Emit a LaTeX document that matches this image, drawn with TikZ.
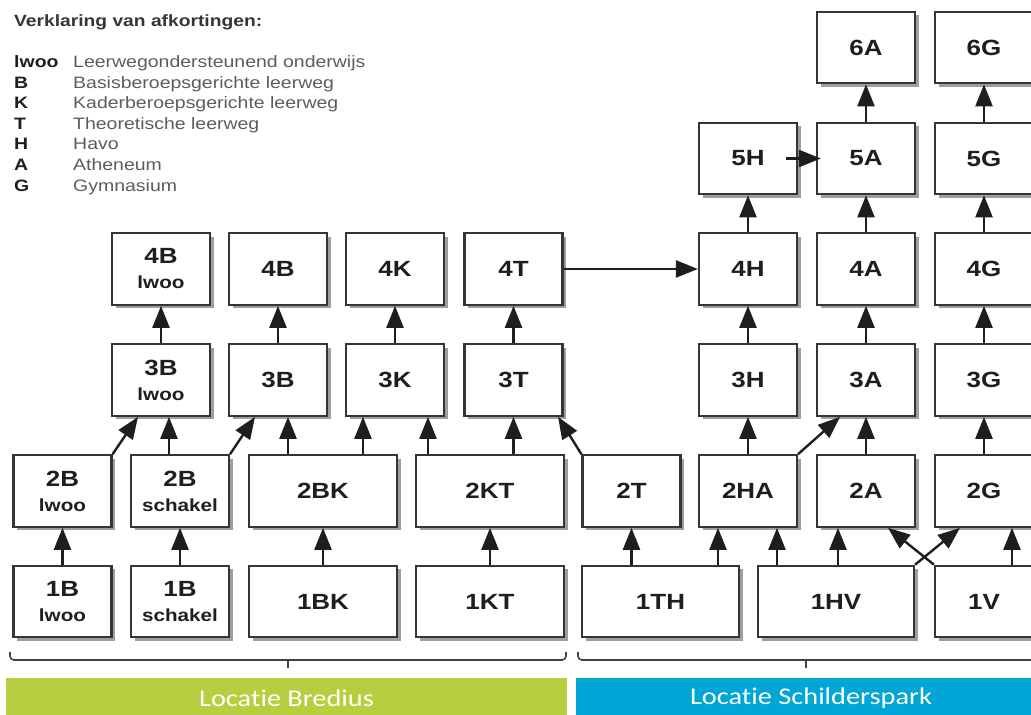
\documentclass[tikz,border=0pt]{standalone}
\usepackage{fontspec}
\setmainfont{Liberation Sans}
\newfontfamily\widesans[FakeStretch=1.18]{Liberation Sans}
\newfontfamily\barfont[FakeStretch=1.18, Ligatures={NoCommon}]{Carlito}
\usetikzlibrary{arrows.meta,shadows}

\definecolor{ink}{HTML}{1E1E1E}
\definecolor{legendgray}{HTML}{5C5C5C}
\definecolor{bredius}{HTML}{B7CE3E}
\definecolor{schilders}{HTML}{00A6D6}

\newcommand\sublbl[1]{{\fontsize{17.5}{25}\selectfont #1}}

\tikzset{
  box/.style={draw=ink!90, line width=2.2pt, fill=white,
    minimum width=98pt, minimum height=71.5pt, inner sep=0pt,
    font=\widesans\bfseries\fontsize{22}{25}\selectfont, text=ink, align=center,
    drop shadow={shadow xshift=3.5pt, shadow yshift=-3.5pt, fill=black!38, opacity=1}},
  widebox/.style={box, minimum width=148pt},
  arr/.style={draw=ink, line width=2.4pt, -{Triangle[length=22pt,width=17pt]}},
  legtitle/.style={anchor=base west, inner sep=0pt, text=ink!90,
    font=\widesans\bfseries\fontsize{16.3}{20}\selectfont},
  legabbr/.style={anchor=base west, inner sep=0pt, text=ink,
    font=\widesans\bfseries\fontsize{16.5}{20}\selectfont},
  legtext/.style={anchor=base west, inner sep=0pt, text=legendgray,
    font=\widesans\fontsize{16.5}{20}\selectfont},
  brace/.style={draw=ink!85, line width=1.6pt, rounded corners=4pt},
  bar/.style={inner sep=0pt, minimum height=40pt, text=white,
    font=\barfont\fontsize{24}{28}\selectfont},
}

\begin{document}
\begin{tikzpicture}[x=1pt, y=-1pt]
\useasboundingbox (0,0) rectangle (1031,715);

% legend
\node[legtitle] (legtitle) at (14,26) {Verklaring van afkortingen:};
\node[legabbr] (la1) at (14,67)  {lwoo};
\node[legabbr] (la2) at (14,88)  {B};
\node[legabbr] (la3) at (14,108) {K};
\node[legabbr] (la4) at (14,129) {T};
\node[legabbr] (la5) at (14,149) {H};
\node[legabbr] (la6) at (14,170) {A};
\node[legabbr] (la7) at (14,191) {G};
\node[legtext] (ld1) at (73,67)  {Leerwegondersteunend onderwijs};
\node[legtext] (ld2) at (73,88)  {Basisberoepsgerichte leerweg};
\node[legtext] (ld3) at (73,108) {Kaderberoepsgerichte leerweg};
\node[legtext] (ld4) at (73,129) {Theoretische leerweg};
\node[legtext] (ld5) at (73,149) {Havo};
\node[legtext] (ld6) at (73,170) {Atheneum};
\node[legtext] (ld7) at (73,191) {Gymnasium};

% year 6
\node[box] (y6A) at (866,47.5) {6A};
\node[box] (y6G) at (984,47.5) {6G};
% year 5
\node[box] (y5H) at (748,158.5) {5H};
\node[box] (y5A) at (866,158.5) {5A};
\node[box] (y5G) at (984,158.5) {5G};
% year 4
\node[box] (y4Bl) at (161,269) {4B\\\sublbl{lwoo}};
\node[box] (y4B)  at (278,269) {4B};
\node[box] (y4K)  at (395,269) {4K};
\node[box] (y4T)  at (513.5,269) {4T};
\node[box] (y4H)  at (748,269) {4H};
\node[box] (y4A)  at (866,269) {4A};
\node[box] (y4G)  at (984,269) {4G};
% year 3
\node[box] (y3Bl) at (161,380) {3B\\\sublbl{lwoo}};
\node[box] (y3B)  at (278,380) {3B};
\node[box] (y3K)  at (395,380) {3K};
\node[box] (y3T)  at (513.5,380) {3T};
\node[box] (y3H)  at (748,380) {3H};
\node[box] (y3A)  at (866,380) {3A};
\node[box] (y3G)  at (984,380) {3G};
% year 2
\node[box] (y2Bl) at (62.5,491) {2B\\\sublbl{lwoo}};
\node[box] (y2Bs) at (180,491) {2B\\\sublbl{schakel}};
\node[widebox] (y2BK) at (323,491) {2BK};
\node[widebox] (y2KT) at (490,491) {2KT};
\node[box] (y2T)  at (631.5,491) {2T};
\node[box] (y2HA) at (748,491) {2HA};
\node[box] (y2A)  at (866,491) {2A};
\node[box] (y2G)  at (984,491) {2G};
% year 1
\node[box] (y1Bl) at (62.5,601.5) {1B\\\sublbl{lwoo}};
\node[box] (y1Bs) at (180,601.5) {1B\\\sublbl{schakel}};
\node[widebox] (y1BK) at (323,601.5) {1BK};
\node[widebox] (y1KT) at (490,601.5) {1KT};
\node[box, minimum width=157pt] (y1TH) at (660.5,601.5) {1TH};
\node[box, minimum width=156pt] (y1HV) at (836,601.5) {1HV};
\node[box] (y1V) at (984,601.5) {1V};

% year 1 -> year 2
\draw[arr] (y1Bl.north) -- (y2Bl.south);
\draw[arr] (y1Bs.north) -- (y2Bs.south);
\draw[arr] (y1BK.north) -- (y2BK.south);
\draw[arr] (y1KT.north) -- (y2KT.south);
\draw[arr] ([xshift=-29pt]y1TH.north) -- (y2T.south);
\draw[arr] ([xshift=57.5pt]y1TH.north) -- ([xshift=-30pt]y2HA.south);
\draw[arr] ([xshift=-59pt]y1HV.north) -- ([xshift=29pt]y2HA.south);
\draw[arr] ([xshift=2pt]y1HV.north) -- ([xshift=-28pt]y2A.south);
\draw[arr] (y1HV.north east) -- ([xshift=-24pt]y2G.south);
\draw[arr] (y1V.north west) -- ([xshift=22pt]y2A.south);
\draw[arr] ([xshift=28pt]y1V.north) -- ([xshift=28pt]y2G.south);

% year 2 -> year 3
\draw[arr] (y2Bl.north east) -- ([xshift=-23pt]y3Bl.south);
\draw[arr] ([xshift=-11pt]y2Bs.north) -- ([xshift=8pt]y3Bl.south);
\draw[arr] (y2Bs.north east) -- ([xshift=-23pt]y3B.south);
\draw[arr] ([xshift=-35pt]y2BK.north) -- ([xshift=10pt]y3B.south);
\draw[arr] ([xshift=40pt]y2BK.north) -- ([xshift=-32pt]y3K.south);
\draw[arr] ([xshift=-62pt]y2KT.north) -- ([xshift=33pt]y3K.south);
\draw[arr] ([xshift=23.5pt]y2KT.north) -- (y3T.south);
\draw[arr] (y2T.north west) -- ([xshift=44.5pt]y3T.south);
\draw[arr] (y2HA.north) -- (y3H.south);
\draw[arr] (y2HA.north east) -- ([xshift=-26pt]y3A.south);
\draw[arr] (y2A.north) -- (y3A.south);
\draw[arr] (y2G.north) -- (y3G.south);

% year 3 -> year 4
\draw[arr] (y3Bl.north) -- (y4Bl.south);
\draw[arr] (y3B.north) -- (y4B.south);
\draw[arr] (y3K.north) -- (y4K.south);
\draw[arr] (y3T.north) -- (y4T.south);
\draw[arr] (y3H.north) -- (y4H.south);
\draw[arr] (y3A.north) -- (y4A.south);
\draw[arr] (y3G.north) -- (y4G.south);

% 4T continues into havo
\draw[arr] (y4T.east) -- (y4H.west);

% year 4 -> year 5 -> year 6
\draw[arr] (y4H.north) -- (y5H.south);
\draw[arr] (y4A.north) -- (y5A.south);
\draw[arr] (y4G.north) -- (y5G.south);
\draw[arr] ([xshift=-12pt]y5H.east) -- ([xshift=5pt]y5A.west);
\draw[arr] (y5A.north) -- (y6A.south);
\draw[arr] (y5G.north) -- (y6G.south);

% location braces
\draw[brace] (10,652) -- (10,660) -- (566,660) -- (566,652);
\draw[brace, rounded corners=0pt] (288,660) -- (288,668);
\draw[brace] (578,652) -- (578,660) -- (1045,660);
\draw[brace, rounded corners=0pt] (806,660) -- (806,668);

% location bars
\node[bar, fill=bredius, minimum width=561pt] (locb) at (286.5,698) {Locatie Bredius};
\node[bar, fill=schilders, minimum width=470pt] (locs) at (811,698) {Locatie Schilderspark};
\end{tikzpicture}
\end{document}
